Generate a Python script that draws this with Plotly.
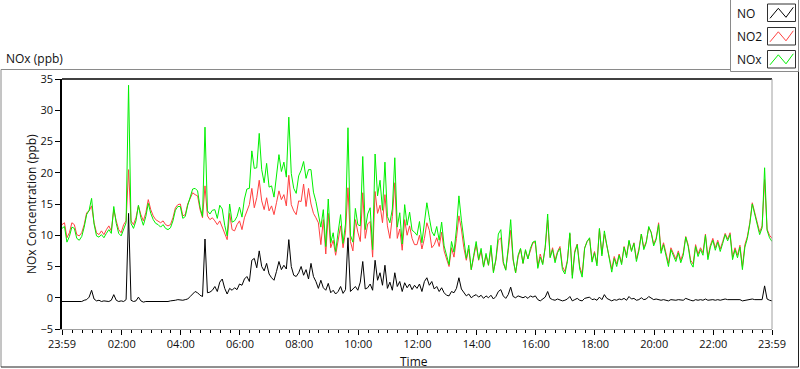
import plotly.graph_objects as go
import pandas as pd

# ---------------- data (5-minute samples) ----------------
start_time = "2000-01-01 23:59"
step = "5min"

no = [
    -0.6, -0.6, -0.7, -0.6, -0.7, -0.6, -0.6, -0.7, -0.6, -0.4,
    -0.3, 0.1, 1.2, -0.2, -0.5, -0.4, -0.6, -0.5, -0.6, -0.6,
    -0.4, 0.5, -0.4, -0.6, -0.5, -0.6, -0.3, 13.5, -0.4, -0.6,
    -0.5, 0.1, -0.5, -0.7, -0.6, -0.6, -0.6, -0.6, -0.6, -0.6,
    -0.7, -0.6, -0.6, -0.6, -0.5, -0.5, -0.4, -0.3, -0.4, -0.4,
    -0.3, -0.2, 0.2, 0.6, 1.0, 0.8, 0.4, 0.2, 9.4, 0.8,
    0.9, 1.2, 1.8, 1.0, 2.5, 3.0, 1.5, 0.6, 1.5, 1.2,
    1.6, 1.3, 2.2, 2.0, 3.0, 3.4, 2.6, 6.0, 6.3, 4.8,
    7.5, 5.0, 4.3, 5.5, 3.8, 3.2, 2.8, 4.2, 5.8, 4.5,
    5.2, 4.6, 9.3, 5.0, 3.6, 3.4, 4.0, 5.0, 3.6, 4.5,
    3.0, 5.5, 3.4, 2.6, 1.5, 2.8, 1.6, 1.2, 2.3, 0.8,
    1.2, 0.6, 1.0, 1.8, 0.7, 1.3, 9.6, 1.0, 1.4, 1.8,
    1.2, 2.5, 5.8, 1.4, 1.6, 2.2, 1.2, 6.0, 2.8, 4.0,
    2.0, 5.2, 1.5, 2.5, 1.2, 4.0, 1.8, 2.6, 1.0, 2.4,
    1.6, 2.2, 1.3, 2.0, 1.5, 2.2, 1.0, 2.6, 3.2, 2.0,
    2.6, 1.4, 1.8, 1.0, 1.6, 0.8, 0.4, 0.3, 1.0, 0.8,
    1.5, 3.2, 1.4, 0.9, 0.3, 0.6, 0.0, 0.3, 0.5, 0.1,
    0.4, -0.1, 0.3, 0.0, 0.4, -0.2, 0.2, 1.0, 1.3, 0.3,
    -0.1, 0.5, 1.7, 0.2, 0.0, 0.3, 0.1, 0.0, 0.2, -0.1,
    0.3, 0.1, 0.3, -0.3, -0.5, -0.2, 0.1, 1.0, -0.1, -0.3,
    -0.4, -0.2, -0.3, -0.5, -0.4, -0.2, 0.2, -0.5, -0.3, -0.1,
    -0.4, -0.5, -0.1, 0.0, 0.1, -0.3, -0.2, -0.4, 0.1, -0.3,
    0.5, -0.1, -0.3, -0.5, -0.3, -0.4, -0.2, -0.3, -0.1, -0.4,
    0.2, -0.2, -0.1, -0.4, -0.3, 0.0, -0.3, -0.2, 0.2, -0.1,
    -0.3, -0.2, -0.3, -0.4, -0.3, -0.4, -0.5, -0.3, -0.4, -0.4,
    -0.3, -0.4, -0.4, -0.1, -0.3, -0.4, -0.5, -0.3, -0.4, -0.3,
    -0.4, -0.2, -0.4, -0.3, -0.3, -0.4, -0.3, -0.4, -0.3, -0.2,
    -0.3, -0.3, -0.4, -0.3, -0.4, -0.3, -0.5, -0.4, -0.3, -0.2,
    -0.2, -0.3, -0.3, -0.4, -0.3, 1.9, -0.2, -0.4, -0.5,
]

no2 = [
    11.7, 12.0, 9.6, 10.4, 12.0, 11.7, 10.1, 9.9, 10.4, 11.7,
    13.6, 13.9, 14.7, 12.0, 10.4, 10.1, 10.7, 10.1, 10.9, 11.5,
    10.7, 14.1, 12.3, 10.9, 10.4, 11.7, 12.3, 20.5, 12.3, 11.7,
    12.8, 14.7, 13.3, 12.3, 13.6, 15.7, 14.1, 13.1, 12.5, 12.3,
    12.0, 12.3, 11.7, 11.5, 11.7, 12.8, 14.4, 14.9, 15.0, 13.1,
    13.3, 15.0, 16.0, 16.8, 16.5, 16.3, 14.1, 12.8, 17.9, 13.1,
    12.5, 12.8, 12.3, 11.7, 12.3, 11.2, 10.1, 9.3, 13.5, 10.9,
    10.7, 11.7, 12.3, 10.9, 12.8, 14.0, 14.9, 17.5, 14.4, 16.0,
    18.8, 15.5, 14.1, 16.0, 13.9, 14.7, 13.3, 15.2, 17.1, 15.7,
    16.5, 14.7, 19.6, 14.9, 13.9, 13.3, 15.5, 15.4, 18.2, 14.6,
    17.5, 15.0, 13.5, 12.8, 12.0, 8.5, 12.5, 7.0, 13.5, 8.0,
    9.2, 6.8, 9.5, 11.5, 8.0, 10.5, 17.6, 9.0, 7.5, 12.5,
    10.5, 9.0, 16.8, 9.5, 11.8, 12.2, 6.5, 17.0, 13.5, 14.8,
    12.0, 16.5, 11.5, 9.5, 13.0, 18.4, 9.5, 11.0, 7.6, 12.5,
    10.0, 11.5, 9.5, 8.5, 8.5, 10.0, 7.8, 9.5, 12.0, 10.8,
    8.0, 8.5, 9.6, 8.2, 10.5, 7.5, 6.2, 5.0, 8.0, 6.5,
    9.5, 13.1, 11.0, 8.0, 6.0, 7.8, 4.5, 6.5, 8.5, 6.0,
    7.5, 5.0, 6.8, 5.2, 8.0, 4.2, 6.0, 9.2, 9.6, 5.5,
    4.5, 7.5, 10.8, 6.0, 4.0, 6.5, 7.8, 5.5, 7.5, 6.3,
    7.6, 8.8, 8.8, 5.0, 7.0, 5.5, 8.0, 12.4, 6.5, 8.0,
    6.0, 7.4, 8.2, 5.0, 4.2, 6.0, 10.2, 3.6, 7.5, 8.6,
    5.0, 3.8, 8.0, 9.0, 9.5, 6.0, 7.4, 5.5, 11.0, 7.0,
    10.2, 8.5, 6.5, 4.6, 6.6, 5.4, 7.0, 5.6, 8.2, 6.8,
    9.0, 7.6, 8.8, 6.2, 7.8, 10.2, 8.0, 9.0, 11.2, 10.5,
    8.6, 9.5, 12.0, 7.5, 8.8, 7.0, 5.5, 8.0, 7.0, 6.2,
    7.5, 6.0, 7.2, 9.8, 8.5, 6.0, 5.4, 8.5, 7.0, 8.0,
    7.2, 10.2, 6.5, 8.4, 9.5, 8.0, 9.2, 7.8, 9.0, 10.3,
    9.4, 10.4, 6.5, 8.0, 6.8, 8.4, 5.0, 8.5, 9.8, 12.0,
    15.2, 13.5, 12.2, 10.5, 11.5, 18.9, 11.0, 10.0, 9.5,
]

nox = [
    11.1, 11.4, 8.9, 9.8, 11.3, 11.1, 9.5, 9.2, 9.8, 11.3,
    13.3, 14.0, 15.9, 11.8, 9.9, 9.7, 10.1, 9.6, 10.3, 10.9,
    10.3, 14.6, 11.9, 10.3, 9.9, 11.1, 12.0, 34.0, 11.9, 11.1,
    12.3, 14.8, 12.8, 11.6, 13.0, 15.1, 13.5, 12.5, 11.9, 11.7,
    11.3, 11.7, 11.1, 10.9, 11.2, 12.3, 14.0, 14.6, 14.6, 12.7,
    13.0, 14.8, 16.2, 17.4, 17.5, 17.1, 14.5, 13.0, 27.3, 13.9,
    13.4, 14.0, 14.1, 12.7, 14.8, 14.2, 11.6, 9.9, 15.0, 12.1,
    12.3, 13.0, 14.5, 12.9, 15.8, 17.4, 17.5, 23.5, 20.7, 20.8,
    26.3, 20.5, 18.4, 21.5, 17.7, 17.9, 16.1, 19.4, 22.9, 20.2,
    21.7, 19.3, 28.9, 19.9, 17.5, 16.7, 19.5, 20.4, 21.8, 19.1,
    20.5, 20.5, 16.9, 15.4, 13.5, 11.3, 14.1, 8.2, 15.8, 8.8,
    10.4, 7.4, 10.5, 13.3, 8.7, 11.8, 27.2, 10.0, 8.9, 14.3,
    11.7, 11.5, 22.6, 10.9, 13.4, 14.4, 7.7, 23.0, 16.3, 18.8,
    14.0, 21.7, 13.0, 12.0, 14.2, 22.4, 11.3, 13.6, 8.6, 14.9,
    11.6, 13.7, 10.8, 10.5, 10.0, 12.2, 8.8, 12.1, 15.2, 12.8,
    10.6, 9.9, 11.4, 9.2, 12.1, 8.3, 6.6, 5.3, 9.0, 7.3,
    11.0, 16.3, 12.4, 8.9, 6.3, 8.4, 4.5, 6.8, 9.0, 6.1,
    7.9, 4.9, 7.1, 5.2, 8.4, 4.0, 6.2, 10.2, 10.9, 5.8,
    4.4, 8.0, 12.5, 6.2, 4.0, 6.8, 7.9, 5.5, 7.7, 6.2,
    7.9, 8.9, 9.1, 4.7, 6.5, 5.3, 8.1, 13.4, 6.4, 7.7,
    5.6, 7.2, 7.9, 4.5, 3.8, 5.8, 10.4, 3.1, 7.2, 8.5,
    4.6, 3.3, 7.9, 9.0, 9.6, 5.7, 7.2, 5.1, 11.1, 6.7,
    10.7, 8.4, 6.2, 4.1, 6.3, 5.0, 6.8, 5.3, 8.1, 6.4,
    9.2, 7.4, 8.7, 5.8, 7.5, 10.2, 7.7, 8.8, 11.4, 10.4,
    8.3, 9.3, 11.7, 7.1, 8.5, 6.6, 5.0, 7.7, 6.6, 5.8,
    7.2, 5.6, 6.8, 9.7, 8.2, 5.6, 4.9, 8.2, 6.6, 7.7,
    6.8, 10.0, 6.1, 8.1, 9.2, 7.6, 8.9, 7.4, 8.7, 10.1,
    9.1, 10.1, 6.1, 7.7, 6.4, 8.1, 4.5, 8.1, 9.5, 11.8,
    15.0, 13.2, 11.9, 10.1, 11.2, 20.8, 10.8, 9.6, 9.0,
]

series_names = ["NO", "NO2", "NOx"]
series_colors = ["#000000", "#ff4040", "#00f000"]

tick_times = ["2000-01-01 23:59", "2000-01-02 02:00", "2000-01-02 04:00",
              "2000-01-02 06:00", "2000-01-02 08:00", "2000-01-02 10:00",
              "2000-01-02 12:00", "2000-01-02 14:00", "2000-01-02 16:00",
              "2000-01-02 18:00", "2000-01-02 20:00", "2000-01-02 22:00",
              "2000-01-02 23:59"]
tick_labels = ["23:59", "02:00", "04:00", "06:00", "08:00", "10:00", "12:00",
               "14:00", "16:00", "18:00", "20:00", "22:00", "23:59"]
y_ticks = [-5, 0, 5, 10, 15, 20, 25, 30, 35]

# ---------------- figure ----------------
W, H = 800, 369
L, R, T, B = 62, 772, 79, 329   # plot-area pixel box


def px(x):
    return (x - L) / (R - L)


def py(y):
    return (B - y) / (B - T)


FONT = "Open Sans"
fig = go.Figure()
for name, vals, col in zip(series_names, [no, no2, nox], series_colors):
    t = pd.date_range(start_time, periods=len(vals), freq=step)
    fig.add_trace(go.Scatter(x=t, y=vals, mode="lines", name=name,
                             line=dict(color=col, width=1), showlegend=False))

shapes = []
# outer frame
shapes.append(dict(type="line", xref="paper", yref="paper", x0=px(1), x1=px(730), y0=py(69.5), y1=py(69.5),
                   line=dict(color="#8a8a8a", width=1)))
shapes.append(dict(type="line", xref="paper", yref="paper", x0=px(1), x1=px(1), y0=py(69.5), y1=py(367),
                   line=dict(color="#8a8a8a", width=1)))
shapes.append(dict(type="line", xref="paper", yref="paper", x0=px(1), x1=px(798.5), y0=py(367), y1=py(367),
                   line=dict(color="#202020", width=1)))
shapes.append(dict(type="line", xref="paper", yref="paper", x0=px(798.5), x1=px(798.5), y0=py(71), y1=py(367),
                   line=dict(color="#202020", width=1)))
# legend box
shapes.append(dict(type="rect", xref="paper", yref="paper", x0=px(730.5), x1=px(798.5), y0=py(-1), y1=py(71.5),
                   line=dict(color="#8a8a8a", width=1), fillcolor="white"))
# plot area: top (black) and right (gray) borders
shapes.append(dict(type="line", xref="paper", yref="paper", x0=0, x1=1, y0=1, y1=1,
                   line=dict(color="#000000", width=1.5)))
shapes.append(dict(type="line", xref="paper", yref="paper", x0=1, x1=1, y0=0, y1=1,
                   line=dict(color="#a0a0a0", width=1)))

annotations = []
legend_tops = [4, 27.5, 50.5]
for name, col, yt in zip(series_names, series_colors, legend_tops):
    # sample box
    shapes.append(dict(type="rect", xref="paper", yref="paper", x0=px(767.5), x1=px(795.5),
                       y0=py(yt), y1=py(yt + 17.5), line=dict(color="#303030", width=1),
                       fillcolor="white"))
    path = "M {:.4f} {:.4f} L {:.4f} {:.4f} L {:.4f} {:.4f} L {:.4f} {:.4f}".format(
        px(770), py(yt + 14.3), px(778.3), py(yt + 4.3), px(786), py(yt + 13.3), px(793.3), py(yt + 3.3))
    shapes.append(dict(type="path", xref="paper", yref="paper", path=path,
                       line=dict(color=col, width=1)))
    annotations.append(dict(text=name, xref="paper", yref="paper", x=px(735), y=py(yt + 9),
                            xanchor="left", yanchor="middle", showarrow=False,
                            font=dict(family=FONT, size=12, color="#101010")))

annotations.append(dict(text="NOx (ppb)", xref="paper", yref="paper", x=px(4), y=py(58.5),
                        xanchor="left", yanchor="middle", showarrow=False,
                        font=dict(family=FONT, size=12, color="#101010")))
annotations.append(dict(text="Time", xref="paper", yref="paper", x=px(414), y=py(361),
                        xanchor="center", yanchor="middle", showarrow=False,
                        font=dict(family=FONT, size=12, color="#101010")))
annotations.append(dict(text="NOx Concentration (ppb)", xref="paper", yref="paper", x=px(31), y=py(204),
                        xanchor="center", yanchor="middle", textangle=-90, showarrow=False,
                        font=dict(family=FONT, size=12, color="#101010")))

fig.update_layout(
    width=W, height=H,
    margin=dict(l=L, r=W - R, t=T, b=H - B, pad=0),
    paper_bgcolor="white", plot_bgcolor="white",
    shapes=shapes, annotations=annotations,
    xaxis=dict(
        range=[tick_times[0], tick_times[-1]],
        tickmode="array", tickvals=tick_times, ticktext=tick_labels,
        ticks="outside", ticklen=5, tickcolor="#000000", tickwidth=1,
        showgrid=False, zeroline=False,
        showline=True, linecolor="#a0a0a0", linewidth=1,
        tickfont=dict(family=FONT, size=11, color="#101010"),
        minor=dict(ticks="outside", ticklen=3, tickcolor="#000000",
                   dtick=20 * 60 * 1000, tick0="2000-01-02 00:00", showgrid=False),
    ),
    yaxis=dict(
        range=[-5, 35], tickmode="array", tickvals=y_ticks,
        ticks="outside", ticklen=5, tickcolor="#000000", tickwidth=1,
        showgrid=False, zeroline=False,
        showline=True, linecolor="#000000", linewidth=1.5,
        tickfont=dict(family=FONT, size=11, color="#101010"),
    ),
)

fig.write_html("out.html", config={"displayModeBar": False},
               post_script="document.body.style.margin='0';document.body.style.overflow='hidden';")
